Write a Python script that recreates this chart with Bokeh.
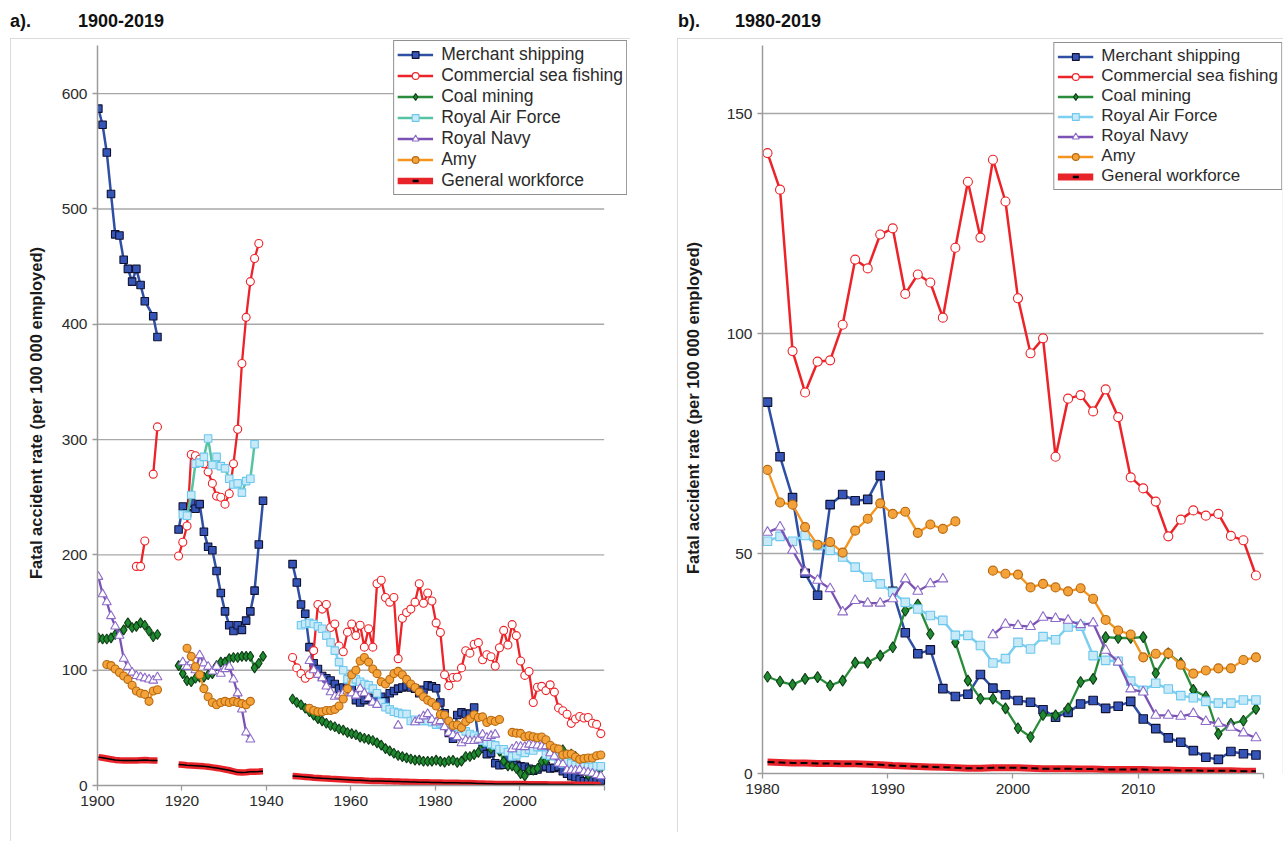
import math
from bokeh.plotting import figure
from bokeh.models import (Legend, LegendItem, ColumnDataSource, FixedTicker, Div,
                          Spacer, Range1d)
from bokeh.layouts import row, column
from bokeh.embed import file_html
from bokeh.resources import INLINE

# ---------------- data ----------------
LABELS = ["Merchant shipping", "Commercial sea fishing", "Coal mining",
          "Royal Air Force", "Royal Navy", "Amy", "General workforce"]

# Merchant shipping
merchant_1900_years = [1900, 1901, 1902, 1903, 1904, 1905, 1906, 1907, 1908, 1909, 1910, 1911, 1913, 1914]
merchant_1900 = [587, 573, 549, 513, 478, 477, 456, 448, 437, 448, 434, 420, 407, 389]
merchant_1919 = [222, 242, 236, 245, 240, 244, 220, 207, 204, 186, 167, 151, 139, 134, 139, 135,
                 143, 151, 169, 209, 247]
merchant_1946 = [192, 176, 157, 149, 120, 106, 101, 95, 93, 91, 88, 84, 85, 86, 85, 74, 72, 74,
                 76, 74, 75, 77, 73, 80, 82, 84, 85, 86, 85, 84, 80, 83, 87, 86]
merchant_1980 = [84.4, 72, 62.7, 45.5, 40.5, 61.1, 63.4, 62, 62.3, 67.7,
                 41.4, 32, 27.2, 28.1, 19.3, 17.5, 18, 22.5, 19.4, 17.9,
                 16.6, 16.2, 14.5, 12.8, 13.9, 15.8, 16.6, 14.8, 15.3, 16.4,
                 12.4, 10.2, 8.1, 7.1, 5.2, 3.7, 3.2, 5.0, 4.5, 4.2]

# Commercial sea fishing
fishing_1909 = [190, 190, 212]
fishing_1913 = [270, 311]
fishing_1919 = [199, 211, 225, 287, 286, 283, 279, 272, 262, 251, 250, 244, 253, 279, 309,
                366, 406, 437, 457, 470]
fishing_1946 = [111, 102, 97, 93, 96, 117, 157, 153, 157, 137, 140, 121, 116, 133, 140, 130,
                139, 120, 136, 120, 175, 178, 163, 159, 163, 110, 145, 150, 153, 159, 175,
                158, 167, 160]
fishing_1980 = [141, 132.7, 96, 86.6, 93.6, 93.9, 102, 116.8, 114.8, 122.5,
                123.9, 109, 113.4, 111.6, 103.6, 119.5, 134.5, 121.8, 139.5, 130,
                108, 95.5, 98.9, 72, 85.2, 86, 82.3, 87.3, 81, 67.3,
                64.8, 61.8, 53.9, 57.7, 59.8, 58.6, 59, 54, 53, 45]

# Coal mining
coal_1900 = [128, 127, 127, 128, 131, 132, 135, 141, 137, 138, 141, 139, 134, 129, 131]
coal_1919 = [104, 97, 91, 90, 93, 94, 94, 96, 97, 104, 107, 107, 110, 111, 111, 112, 112, 112,
             102, 106, 112]
coal_1946 = [75, 72, 70, 67, 64, 61, 58, 56, 54, 52, 51, 49, 48, 46, 45, 44, 42, 41, 40, 39,
             37, 35, 32, 30, 28, 26, 25, 24, 23, 22, 22, 21, 21, 21]
coal_1980 = [22, 20.9, 20.2, 21.5, 21.9, 20, 21.1, 25.2, 25.2, 26.8, 28.7, 37, 38.4, 31.7]
coal_1995 = [29.8, 21.1, 17, 17, 14.8, 10.3, 8.3, 13.3, 13.2, 14.8, 20.8, 21.5, 31, 30.8, 30.8,
             31, 22.8, 27.3, 25.1, 19, 17.5, 9, 11.3, 12, 14.7]

# Royal Air Force
raf_1920 = [235, 234, 252, 279, 280, 285, 301, 278, 285, 277, 275, 266, 261, 262, 254, 264,
            266, 296]
raf_1948 = [139, 140, 141, 140, 138, 136, 130, 124, 117, 107, 100, 92, 90, 92, 90, 88, 87, 84,
            80, 72, 68, 66, 64, 63, 62, 62, 56, 57, 56, 56, 56, 55]
raf_1980 = [52.8, 53.9, 52.8, 54.1, 51.8, 50.7, 49.2, 46.9, 44.6, 43.1,
            41.2, 38.9, 37.4, 35.9, 34.8, 31.4, 31.4, 29.1, 25.1, 26.1,
            29.8, 28.3, 31.1, 30.4, 33.3, 33.5, 26.8, 25.7, 25.5, 21,
            18.9, 20.5, 19.2, 17.7, 17.2, 16.4, 16, 16, 16.7, 16.7]

# Royal Navy
navy_1900 = [181, 166, 159, 147, 138, 130, 110, 103, 98, 95, 94, 93, 92, 91, 94]
navy_1920 = [107, 103, 107, 100, 113, 106, 103, 99, 103, 97, 101, 103, 92, 80, 66, 46, 40]
navy_1950 = [108, 100, 96, 93, 86, 81, 77, 78, 80, 82, 80, 78, 84, 80, 76, 72, 70]
navy_1971 = [52]
navy_1975 = [55, 57, 60, 62, 57]
navy_1980 = [54.8, 56, 50.7, 45.8, 43.9, 42, 36.7, 39.3, 38.7, 38.7, 39.7, 44.2, 41.4, 43.1, 44.2]
navy_1998 = [31.5, 33.9, 33.6, 33.4, 35.5, 35.2, 34.8, 33.8, 34.2, 28, 25.3, 19.2, 18.5, 13.2,
             13.2, 13, 13.6, 11.8, 11.4, 10.5, 9.2, 8.1]

# Army
army_1902 = [105, 104, 101, 98, 95, 92, 87, 82, 80, 79, 73, 82, 83]
army_1921 = [119, 112, 103, 96, 84, 77, 72, 70, 72, 73, 72, 73, 72, 71, 70, 73]
army_1950 = [67, 65, 64, 64, 65, 65, 66, 69, 75, 84, 96, 100, 108, 111, 107, 101, 97, 90, 88,
             92, 97, 99, 96, 92, 88, 85, 81, 77, 74, 72]
army_1980 = [69, 61.6, 61.1, 56, 52, 52.6, 50.2, 55.2, 57.9, 61.4, 59, 59.5, 54.7, 56.6, 55.6, 57.3]
army_1998 = [46.1, 45.4, 45.2, 42.3, 43.1, 42.3, 41.4, 42.1, 39.7, 34.9, 32.5, 31.6, 26.4, 27.2,
             27.3, 24.7, 22.7, 23.4, 23.9, 23.9, 25.8, 26.4]

# General workforce
gw_1900 = [24.6, 24.0, 23.4, 22.8, 22.2, 21.9, 21.7, 21.7, 21.7, 21.7, 21.9, 22.1, 21.8, 21.6, 21.6]
gw_1919 = [18.2, 17.9, 17.6, 17.4, 17.2, 16.9, 16.6, 16.2, 15.7, 15.2, 14.6, 13.9, 13.2, 12.3,
           11.4, 11.2, 11.5, 11.9, 12.0, 12.1, 12.3]
gw_1946 = [8.2, 8.0, 7.7, 7.4, 7.1, 6.8, 6.6, 6.3, 6.1, 5.8, 5.6, 5.4, 5.2, 5.0, 4.8, 4.6, 4.5,
           4.3, 4.1, 4.0, 3.9, 3.8, 3.7, 3.6, 3.5, 3.4, 3.3, 3.2, 3.1, 3.0, 2.9, 2.9, 2.8, 2.7]
gw_1980 = [2.6, 2.5, 2.4, 2.4, 2.3, 2.3, 2.2, 2.2, 2.1, 2.0, 1.8, 1.7, 1.6, 1.5, 1.4, 1.3, 1.2,
           1.2, 1.3, 1.3, 1.3, 1.2, 1.1, 1.1, 1.1, 1.0, 1.0, 0.9, 0.9, 0.9, 0.9, 0.8, 0.8, 0.7,
           0.7, 0.6, 0.6, 0.6, 0.5, 0.5]

Y_TICKS_A = [0, 100, 200, 300, 400, 500, 600]
Y_TICKS_B = [0, 50, 100, 150]
X_TICKS_A = [1900, 1920, 1940, 1960, 1980, 2000, 2020]
X_TICKS_B = [1980, 1990, 2000, 2010, 2020]

# ---------------- helpers ----------------
NAN = float("nan")


def seg(start, values):
    return (list(range(start, start + len(values))), list(values))


def join(*segs):
    yrs, vals = [], []
    for y, v in segs:
        yrs += y
        vals += v
    return (yrs, vals)


def source(segs, offset):
    xs, ys = [], []
    for i, (yrs, vals) in enumerate(segs):
        if i > 0:
            xs.append(NAN)
            ys.append(NAN)
        xs += [y + offset for y in yrs]
        ys += vals
    return ColumnDataSource(dict(x=xs, y=ys))


FONT = "Liberation Sans"
TXT = "#2b2b2b"
AX = "#9b9b9b"

STYLE = {
    "merchant": dict(line="#2f4fa5", marker="square", fill="#3556b8", edge="#101030"),
    "fishing": dict(line="#ec2328", marker="circle", fill="white", edge="#ec2328"),
    "coal": dict(line="#2a8c3a", marker="diamond", fill="#1f8a30", edge="#0f3d16"),
    "raf": dict(line="#7ccff0", marker="square", fill="#c8eaf8", edge="#6cc8ee"),
    "navy": dict(line="#7b52b4", marker="triangle", fill="white", edge="#8d6ac8"),
    "army": dict(line="#f5951f", marker="circle", fill="#f4a23a", edge="#b8690f"),
}


def draw(p, key, src, lw, msize, line_color=None):
    st = STYLE[key]
    lr = p.line("x", "y", source=src, line_color=line_color or st["line"], line_width=lw)
    sr = p.scatter("x", "y", source=src, marker=st["marker"], size=msize,
                   fill_color=st["fill"], line_color=st["edge"], line_width=1.1)
    return lr, sr


def make_fig(w, h, xr, yr, xt, yt, xb, yb, borders):
    p = figure(width=w, height=h, x_range=Range1d(*xr), y_range=Range1d(*yr),
               output_backend="svg", toolbar_location=None, tools="",
               margin=0, align="start")
    p.min_border_left, p.min_border_right, p.min_border_top, p.min_border_bottom = borders
    p.outline_line_color = None
    p.background_fill_color = "white"
    p.border_fill_color = "white"
    p.xgrid.grid_line_color = None
    p.ygrid.grid_line_color = None
    # horizontal grid lines limited to the axis extent
    p.segment(x0=[xb[0]] * (len(yt) - 1), x1=[xb[1]] * (len(yt) - 1), y0=yt[1:], y1=yt[1:],
              line_color="#a8a8a8", line_width=1.4)
    p.xaxis.ticker = FixedTicker(ticks=xt)
    p.yaxis.ticker = FixedTicker(ticks=yt)
    p.xaxis.major_label_overrides = {xt[-1]: ""}
    p.xaxis.bounds = xb
    p.yaxis.bounds = yb
    for ax in (p.xaxis, p.yaxis):
        ax.axis_line_color = AX
        ax.axis_line_width = 1.5
        ax.major_tick_line_color = AX
        ax.major_tick_line_width = 1.3
        ax.major_tick_out = 5
        ax.major_tick_in = 0
        ax.minor_tick_line_color = None
        ax.major_label_text_font = FONT
        ax.major_label_text_font_size = "15.5px"
        ax.major_label_text_color = TXT
        ax.major_label_standoff = 5
    p.yaxis.axis_label = "Fatal accident rate (per 100 000 employed)"
    p.yaxis.axis_label_text_font = FONT
    p.yaxis.axis_label_text_font_style = "bold"
    p.yaxis.axis_label_text_font_size = "16.5px"
    p.yaxis.axis_label_text_color = "#1a1a1a"
    p.styles = {"outline": "1.5px solid #cfcfcf", "outline-offset": "-1.5px"}
    return p


def add_legend(p, items, fsize):
    legend_items = [LegendItem(label=LABELS[i], renderers=list(items[i])) for i in range(7)]
    lg = Legend(items=legend_items, location="top_right")
    lg.label_text_font = FONT
    lg.label_text_font_size = fsize
    lg.label_text_color = TXT
    lg.glyph_width = 36
    lg.glyph_height = 17
    lg.label_height = 17
    lg.label_standoff = 8
    lg.spacing = 0
    lg.padding = 3
    lg.margin = 0
    lg.border_line_color = "#222222"
    lg.border_line_width = 1.5
    lg.background_fill_color = "white"
    lg.background_fill_alpha = 1
    p.add_layout(lg)


# page positions: panel a box x 10..630, panel b box x 677..1283, figures start at y=38
LEFT, W_A, GAP, W_B = 10, 620, 47, 606
H_A, H_B, TITLE_H = 803, 794, 38

# ---------------- panel a ----------------
OA = 0.2
# frame: x 97..627 px (1900 at 97, 2020 at 604), y 40..785 px
pa = make_fig(W_A, H_A, (1900, 2025.52), (0, 646.1), X_TICKS_A, Y_TICKS_A,
              (1900, 2020), (0, 642), (87, 3, 2, 56))
pa.yaxis.axis_label_standoff = 14

ms = source([(merchant_1900_years, merchant_1900), seg(1919, merchant_1919),
             join(seg(1946, merchant_1946), seg(1980, merchant_1980))], OA)
fs = source([seg(1909, fishing_1909), seg(1913, fishing_1913), seg(1919, fishing_1919),
             join(seg(1946, fishing_1946), seg(1980, fishing_1980))], OA)
cs = source([seg(1900, coal_1900), seg(1919, coal_1919),
             join(seg(1946, coal_1946), seg(1980, coal_1980)), seg(1995, coal_1995)], OA)
rs1 = source([seg(1920, raf_1920)], OA)
rs2 = source([join(seg(1948, raf_1948), seg(1980, raf_1980))], OA)
ns = source([seg(1900, navy_1900), seg(1920, navy_1920), seg(1950, navy_1950),
             seg(1971, navy_1971), join(seg(1975, navy_1975), seg(1980, navy_1980)),
             seg(1998, navy_1998)], OA)
a_s = source([seg(1902, army_1902), seg(1921, army_1921),
              join(seg(1950, army_1950), seg(1980, army_1980)), seg(1998, army_1998)], OA)
gs = source([seg(1900, gw_1900), seg(1919, gw_1919), join(seg(1946, gw_1946), seg(1980, gw_1980))], OA)

ia = []
ia.append(draw(pa, "merchant", ms, 2.5, 7.5))
ia.append(draw(pa, "fishing", fs, 2.3, 8))
ia.append(draw(pa, "coal", cs, 2.3, 10))
raf_teal = "#55c4a2"
r1 = draw(pa, "raf", rs1, 2.5, 7.5, line_color=raf_teal)
draw(pa, "raf", rs2, 2.5, 7.5)
ia.append(r1)
ia.append(draw(pa, "navy", ns, 2.3, 9))
ia.append(draw(pa, "army", a_s, 2.3, 8))
g_red = pa.line("x", "y", source=gs, line_color="#e8242a", line_width=6.5)
pa.line("x", "y", source=gs, line_color="black", line_width=1.5)
g_dash = pa.line(x=[NAN], y=[NAN], line_color="black", line_width=2.5, line_dash="6 60",
                 line_dash_offset=51)
ia.append((g_red, g_dash))
add_legend(pa, ia, "17.5px")

# ---------------- panel b ----------------
OB = 0.4
# frame: x 762..1282 px (1980 at 762, 2020 at 1263), y 42..773 px
pb = make_fig(W_B, H_B, (1980, 2021.52), (0, 166.14), X_TICKS_B, Y_TICKS_B,
              (1980, 2020), (0, 165.5), (85, 1, 4, 59))
pb.yaxis.axis_label_standoff = 22

ib = []
ib.append(draw(pb, "merchant", source([seg(1980, merchant_1980)], OB), 2.5, 8.5))
ib.append(draw(pb, "fishing", source([seg(1980, fishing_1980)], OB), 2.5, 9))
ib.append(draw(pb, "coal", source([seg(1980, coal_1980), seg(1995, coal_1995)], OB), 2.3, 11))
ib.append(draw(pb, "raf", source([seg(1980, raf_1980)], OB), 2.5, 8.5))
ib.append(draw(pb, "navy", source([seg(1980, navy_1980), seg(1998, navy_1998)], OB), 2.3, 10))
ib.append(draw(pb, "army", source([seg(1980, army_1980), seg(1998, army_1998)], OB), 2.3, 9))
gsb = source([seg(1980, gw_1980)], OB)
gb_red = pb.line("x", "y", source=gsb, line_color="#e8242a", line_width=7)
pb.line("x", "y", source=gsb, line_color="black", line_width=2, line_dash="7 4")
gb_dash = pb.line(x=[NAN], y=[NAN], line_color="black", line_width=2.5, line_dash="6 60",
                  line_dash_offset=51)
ib.append((gb_red, gb_dash))
add_legend(pb, ib, "17px")


def title_div(tag, rng, w, lead, gap):
    html = ('<div style="font-family:\'Liberation Sans\',Arial,sans-serif;font-weight:bold;'
            'font-size:18px;color:#111;padding-top:9px;white-space:nowrap">'
            '<span style="margin-left:%dpx">%s</span>'
            '<span style="margin-left:%dpx">%s</span></div>' % (lead, tag, gap, rng))
    return Div(text=html, width=w, height=TITLE_H, margin=0, align="start")


col_a = column(title_div("a).", "1900-2019", W_A, 0, 47), pa, spacing=0, margin=0, align="start")
col_b = column(title_div("b).", "1980-2019", W_B, 1, 35), pb, spacing=0, margin=0, align="start")
layout = row(Spacer(width=LEFT, margin=0), col_a, Spacer(width=GAP, margin=0), col_b,
             spacing=0, margin=0)

open("out.html", "w").write(file_html(layout, INLINE))
